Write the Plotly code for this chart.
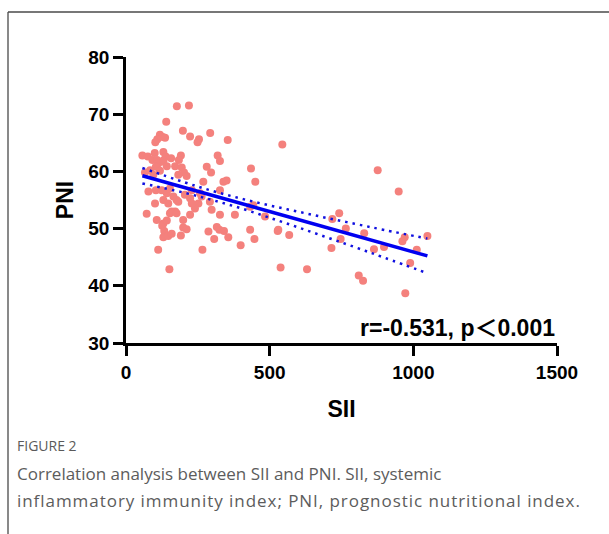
import plotly.graph_objects as go

# SII (x) and PNI (y) values
sii = [177, 219, 140, 198, 293, 223, 254, 249, 354, 118, 128, 109, 102, 136,
       57, 76, 100, 92, 108, 130, 138, 130, 191, 184, 157, 319, 327,
       112, 130, 142, 104, 118, 84, 66, 95, 171, 194, 202, 182, 211, 281, 296, 269, 339, 350, 327, 435, 450,
       78, 104, 124, 142, 153, 165, 130, 147, 176, 205, 229, 223, 258, 263, 252, 240, 171, 153, 101, 72, 107,
       130, 199, 292, 298, 327, 379, 432, 443, 484, 316,
       126, 133, 130, 147, 159, 142, 112, 151, 191, 199, 211, 266, 287, 307, 325, 341, 356, 399, 432, 447, 528,
       159, 176, 223, 182, 229,
       544, 876, 949, 742, 718, 765, 829, 970, 962, 1049, 747, 715, 863, 898, 1012, 989, 530, 568, 538, 630,
       810, 825, 972]
pni = [71.4, 71.5, 68.7, 67.1, 66.7, 66.1, 65.6, 65.1, 65.5, 66.4, 66.0, 65.6, 65.1, 65.9,
       62.8, 62.6, 63.2, 62.0, 62.0, 63.4, 62.6, 61.9, 62.8, 62.0, 62.3, 62.8, 61.8,
       61.4, 61.7, 60.9, 60.8, 60.1, 60.2, 59.8, 59.4, 60.9, 60.7, 59.8, 59.4, 59.2, 60.8, 59.8, 58.2, 58.2, 58.4, 56.7, 60.5, 58.2,
       56.5, 56.7, 56.7, 56.2, 57.0, 55.6, 55.0, 54.4, 55.0, 55.9, 56.7, 55.3, 56.2, 55.6, 54.4, 53.5, 53.0, 52.7, 54.4, 52.6, 51.5,
       50.9, 51.5, 54.7, 53.3, 52.4, 52.4, 53.8, 54.1, 52.1, 50.3,
       50.5, 49.6, 48.5, 48.7, 49.1, 51.4, 46.3, 42.9, 48.8, 50.2, 49.9, 46.3, 49.5, 48.2, 49.8, 49.6, 48.5, 47.1, 49.8, 48.2, 49.6,
       53.0, 52.7, 52.4, 54.7, 54.4,
       64.7, 60.2, 56.5, 52.7, 51.7, 50.0, 49.2, 48.5, 47.8, 48.7, 48.2, 46.6, 46.4, 46.8, 46.3, 44.0, 49.8, 48.9, 43.2, 42.9,
       41.8, 40.9, 38.7]

# regression line and 95% confidence band
fit_x = [57, 1049]
fit_y = [59.24, 45.23]
band_x = [57, 200, 300, 400, 500, 600, 700, 800, 900, 1049]
band_upper = [60.6, 58.15, 56.6, 55.25, 54.05, 52.95, 51.85, 50.8, 49.75, 48.25]
band_lower = [57.9, 56.3, 55.0, 53.55, 51.9, 50.2, 48.45, 46.7, 44.9, 42.2]

x_ticks = [0, 500, 1000, 1500]
y_ticks = [30, 40, 50, 60, 70, 80]

stat_text = "r=-0.531, p<span style=\"font-family:'Noto Sans CJK SC'\">\uff1c</span>0.001"
caption_label = "FIGURE 2"
caption_line1 = "Correlation analysis between SII and PNI. SII, systemic"
caption_line2 = "inflammatory immunity index; PNI, prognostic nutritional index."

fig = go.Figure()
fig.add_trace(go.Scatter(x=sii, y=pni, mode="markers",
                         marker=dict(color="#F4817D", size=8, line=dict(width=0)),
                         showlegend=False))
fig.add_trace(go.Scatter(x=band_x, y=band_upper, mode="lines",
                         line=dict(color="#1010E0", width=2.5, dash="2.5px,5px", shape="spline"),
                         showlegend=False))
fig.add_trace(go.Scatter(x=band_x, y=band_lower, mode="lines",
                         line=dict(color="#1010E0", width=2.5, dash="2.5px,5px", shape="spline"),
                         showlegend=False))
fig.add_trace(go.Scatter(x=fit_x, y=fit_y, mode="lines",
                         line=dict(color="#0000F0", width=3.5),
                         showlegend=False))

tickfont = dict(family="Liberation Sans, Arial, sans-serif", size=19, color="black", weight="bold")
titlefont = dict(family="Liberation Sans, Arial, sans-serif", size=23, color="black", weight="bold")

fig.update_xaxes(range=[0, 1500], tickvals=x_ticks, ticktext=[str(v) for v in x_ticks],
                 showline=True, linecolor="black", linewidth=2.5, ticks="outside", ticklen=10,
                 tickwidth=2.5, tickcolor="black", showgrid=False, zeroline=False,
                 tickfont=tickfont, title=dict(text="SII", font=titlefont, standoff=20))
fig.update_yaxes(range=[30, 80], tickvals=y_ticks, ticktext=[str(v) for v in y_ticks],
                 showline=True, linecolor="black", linewidth=2.5, ticks="outside", ticklen=10,
                 tickwidth=2.5, tickcolor="black", showgrid=False, zeroline=False,
                 tickfont=tickfont, title=dict(text="PNI", font=titlefont, standoff=9))

W, H = 609, 534
L, R, T, B = 126, 52, 57, 191
pw, ph = W - L - R, H - T - B


def px_x(p):
    return (p - L) / pw


def px_y(p):
    return (H - B - p) / ph


fig.add_annotation(x=1, xref="paper", y=33, yref="y", text=stat_text, showarrow=False,
                   xanchor="right", yanchor="middle",
                   font=dict(family="Liberation Sans, Arial, sans-serif", size=23, color="black", weight="bold"))
fig.add_annotation(x=px_x(15), xref="paper", y=px_y(445), yref="paper", text=caption_label,
                   showarrow=False, xanchor="left", yanchor="middle",
                   font=dict(family="Open Sans, sans-serif", size=14, color="#5a5a5a"))
fig.add_annotation(x=px_x(15), xref="paper", y=px_y(474), yref="paper", text=caption_line1,
                   showarrow=False, xanchor="left", yanchor="middle",
                   font=dict(family="Open Sans, sans-serif", size=17, color="#5c5c5c"))
fig.add_annotation(x=px_x(15), xref="paper", y=px_y(500), yref="paper",
                   text="<span style=\"letter-spacing:0.95px\">" + caption_line2 + "</span>",
                   showarrow=False, xanchor="left", yanchor="middle",
                   font=dict(family="Open Sans, sans-serif", size=17, color="#5c5c5c"))

frame = dict(color="#4a4a4a", width=1.3)
fig.add_shape(type="line", xref="paper", yref="paper", x0=px_x(8), x1=px_x(609), y0=px_y(12), y1=px_y(12), line=frame)
fig.add_shape(type="line", xref="paper", yref="paper", x0=px_x(8), x1=px_x(8), y0=px_y(12), y1=px_y(534), line=frame)

fig.update_layout(width=W, height=H, margin=dict(l=L, r=R, t=T, b=B, autoexpand=False),
                  plot_bgcolor="white", paper_bgcolor="white")

fig.write_html("out.html", config={"displayModeBar": False},
               post_script="document.body.style.margin='0';document.body.style.overflow='hidden';")
